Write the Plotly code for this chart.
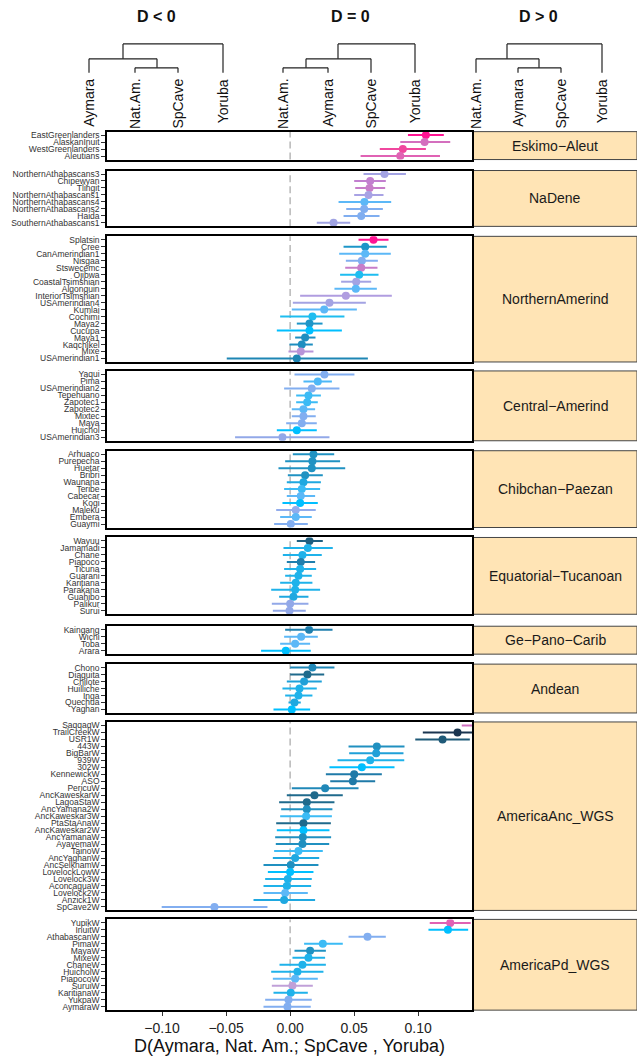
import plotly.graph_objects as go

FIG_W, FIG_H = 637, 1060
FONT = "Liberation Sans, Arial, Helvetica, sans-serif"

# ---------------- D statistics with 95% intervals ----------------
eskimo_names = ["EastGreenlanders", "AlaskanInuit", "WestGreenlanders", "Aleutians"]
eskimo_d = [0.106, 0.105, 0.088, 0.086]
eskimo_lo = [0.092, 0.086, 0.070, 0.055]
eskimo_hi = [0.120, 0.125, 0.106, 0.117]
eskimo_col = ["#FF1493", "#D46FBE", "#F0479E", "#E062B4"]

nadene_names = ["NorthernAthabascans3", "Chipewyan", "Tlingit", "NorthernAthabascans1",
                "NorthernAthabascans4", "NorthernAthabascans2", "Haida", "SouthernAthabascans1"]
nadene_d = [0.0737, 0.0625, 0.0620, 0.0612, 0.0580, 0.0578, 0.0555, 0.0339]
nadene_lo = [0.0573, 0.0500, 0.0508, 0.0500, 0.0378, 0.0438, 0.0417, 0.0208]
nadene_hi = [0.0904, 0.0747, 0.0742, 0.0729, 0.0789, 0.0724, 0.0698, 0.0469]
nadene_col = ["#A3A3E3", "#C27FCF", "#C77DC9", "#A8A2E4", "#5CB8F7", "#80AEF0", "#80AEF0", "#A0A3E3"]

namer_names = ["Splatsin", "Cree", "CanAmerindian1", "Nisgaa", "Stswecemc", "Ojibwa",
               "CoastalTsimshian", "Algonquin", "InteriorTsimshian", "USAmerindian4", "Kumlai",
               "Cochimi", "Maya2", "Cucupa", "Maya1", "Kaqchikel", "Mixe", "USAmerindian1"]
namer_d = [0.0651, 0.0586, 0.0586, 0.0560, 0.0555, 0.0539, 0.0516, 0.0513, 0.0435, 0.0307,
           0.0266, 0.0174, 0.0151, 0.0151, 0.0117, 0.0091, 0.0083, 0.0052]
namer_lo = [0.0534, 0.0417, 0.0383, 0.0435, 0.0430, 0.0390, 0.0398, 0.0346, 0.0078, 0.0021,
            0.0013, -0.0078, 0.0052, -0.0104, 0.0039, -0.0005, -0.0013, -0.0495]
namer_hi = [0.0768, 0.0755, 0.0786, 0.0685, 0.0682, 0.0690, 0.0633, 0.0677, 0.0794, 0.0591,
            0.0521, 0.0424, 0.0253, 0.0404, 0.0198, 0.0177, 0.0182, 0.0607]
namer_col = ["#FF1493", "#1E96C8", "#5CB8F7", "#82AEF0", "#C77DC9", "#1EBDF0", "#A3A3E3",
             "#5CB8F7", "#B09DE0", "#A3A3E3", "#5CB8F7", "#1EBDF0", "#1E96C8", "#00BFFF",
             "#1E8EC0", "#1E8EC0", "#B894D8", "#1E86B4"]

central_names = ["Yaqui", "Pima", "USAmerindian2", "Tepehuano", "Zapotec1", "Zapotec2",
                 "Mixtec", "Maya", "Huichol", "USAmerindian3"]
central_d = [0.0268, 0.0216, 0.0169, 0.0143, 0.0133, 0.0104, 0.0104, 0.0091, 0.0052, -0.0060]
central_lo = [0.0034, 0.0104, -0.0047, 0.0047, 0.0047, 0.0013, 0.0013, -0.0031, -0.0104, -0.0430]
central_hi = [0.0502, 0.0326, 0.0385, 0.0240, 0.0216, 0.0195, 0.0200, 0.0208, 0.0208, 0.0307]
central_col = ["#82AEF0", "#4DB8F7", "#82AEF0", "#3BBBF5", "#3BBBF5", "#5CB8F7", "#82AEF0",
               "#82AEF0", "#00BFFF", "#92A8E8"]

chib_names = ["Arhuaco", "Purepecha", "Huetar", "Bribri", "Waunana", "Teribe", "Cabecar",
              "Kogi", "Maleku", "Embera", "Guaymi"]
chib_d = [0.0182, 0.0174, 0.0169, 0.0117, 0.0104, 0.0091, 0.0083, 0.0078, 0.0044, 0.0044, 0.0005]
chib_lo = [0.0021, -0.0039, -0.0091, -0.0018, -0.0026, -0.0047, -0.0026, -0.0060, -0.0109,
           -0.0078, -0.0125]
chib_hi = [0.0344, 0.0390, 0.0430, 0.0255, 0.0240, 0.0234, 0.0195, 0.0216, 0.0200, 0.0169, 0.0138]
chib_col = ["#2092C2", "#2092C2", "#2092C2", "#2092C2", "#1FA8E0", "#3BBBF5", "#5CB8F7",
            "#00BFFF", "#92ACEC", "#5CB8F7", "#82AEF0"]

equat_names = ["Wayuu", "Jamamadi", "Chane", "Piapoco", "Ticuna", "Guarani", "Karitiana",
               "Parakana", "Guahibo", "Palikur", "Surui"]
equat_d = [0.0151, 0.0138, 0.0096, 0.0083, 0.0078, 0.0065, 0.0044, 0.0039, 0.0026, 0.0000, -0.0005]
equat_lo = [0.0052, -0.0052, -0.0057, -0.0026, -0.0047, -0.0039, -0.0078, -0.0148, -0.0086,
            -0.0143, -0.0135]
equat_hi = [0.0255, 0.0333, 0.0247, 0.0195, 0.0203, 0.0169, 0.0174, 0.0234, 0.0143, 0.0143, 0.0122]
equat_col = ["#1F5F80", "#1FB2EA", "#1FB2EA", "#1F7FAE", "#1FB2EA", "#1FB2EA", "#1FB2EA",
             "#1FB2EA", "#1FA8E0", "#92A8E8", "#92A8E8"]

gepano_names = ["Kaingang", "Wichi", "Toba", "Arara"]
gepano_d = [0.0148, 0.0086, 0.0039, -0.0034]
gepano_lo = [-0.0039, -0.0047, -0.0078, -0.0227]
gepano_hi = [0.0331, 0.0216, 0.0156, 0.0161]
gepano_col = ["#1F7FAE", "#5CB8F7", "#5CB8F7", "#00BFFF"]

andean_names = ["Chono", "Diaguita", "Chilote", "Huilliche", "Inga", "Quechua", "Yaghan"]
andean_d = [0.0174, 0.0135, 0.0109, 0.0073, 0.0065, 0.0034, 0.0013]
andean_lo = [0.0000, 0.0000, -0.0026, -0.0060, -0.0039, -0.0013, -0.0130]
andean_hi = [0.0346, 0.0266, 0.0247, 0.0208, 0.0174, 0.0083, 0.0156]
andean_col = ["#2088B8", "#1F6A8C", "#1FA0D8", "#1FB2EA", "#1FB2EA", "#1FA8E0", "#00BFFF"]

anc_names = ["SaqqaqW", "TrailCreekW", "USR1W", "443W", "BigBarW", "939W", "302W",
             "KennewickW", "ASO", "PericuW", "AncKaweskarW", "LagoaStaW", "AncYamana2W",
             "AncKaweskar3W", "PtaStaAnaW", "AncKaweskar2W", "AncYamanaW", "AyayemaW",
             "TainoW", "AncYaghanW", "AncSelknamW", "LovelockLowW", "Lovelock3W",
             "AconcaguaW", "Lovelock2W", "Anzick1W", "SpCave2W"]
anc_d = [0.1600, 0.1307, 0.1190, 0.0677, 0.0672, 0.0625, 0.0560, 0.0500, 0.0490, 0.0273,
         0.0190, 0.0130, 0.0130, 0.0125, 0.0104, 0.0104, 0.0099, 0.0096, 0.0065, 0.0039,
         0.0005, 0.0000, -0.0018, -0.0026, -0.0039, -0.0047, -0.0591]
anc_lo = [0.1340, 0.1036, 0.0977, 0.0456, 0.0461, 0.0370, 0.0307, 0.0279, 0.0313, 0.0013,
          -0.0026, -0.0086, -0.0070, -0.0078, -0.0109, -0.0104, -0.0117, -0.0112, -0.0125,
          -0.0135, -0.0208, -0.0174, -0.0195, -0.0208, -0.0208, -0.0286, -0.1003]
anc_hi = [0.1860, 0.1580, 0.1403, 0.0893, 0.0885, 0.0891, 0.0815, 0.0716, 0.0664, 0.0534,
          0.0411, 0.0346, 0.0330, 0.0326, 0.0318, 0.0307, 0.0320, 0.0305, 0.0255, 0.0227,
          0.0221, 0.0182, 0.0169, 0.0164, 0.0138, 0.0195, -0.0177]
anc_col = ["#D070C0", "#1A3550", "#1F5A78", "#2090C0", "#1FA0D8", "#1FB2EA", "#00BFFF",
           "#1F7AA8", "#1F7AA8", "#2088B8", "#1F6A8C", "#1F6A8C", "#2090C0", "#3BBBF5",
           "#1F6A8C", "#00BFFF", "#2090C0", "#2090C0", "#3BBBF5", "#1FA8E0", "#2090C0",
           "#00BFFF", "#1FB2EA", "#1FB2EA", "#5CB8F7", "#1FA8E0", "#82AEF0"]

pd_names = ["YupikW", "InuitW", "AthabascanW", "PimaW", "MayaW", "MixeW", "ChaneW",
            "HuicholW", "PiapocoW", "SuruiW", "KaritianaW", "YukpaW", "AymaraW"]
pd_d = [0.1250, 0.1232, 0.0604, 0.0255, 0.0156, 0.0143, 0.0096, 0.0057, 0.0039, 0.0018,
        0.0005, -0.0013, -0.0021]
pd_lo = [0.1090, 0.1080, 0.0456, 0.0109, 0.0034, 0.0018, -0.0083, -0.0148, -0.0135, -0.0143,
         -0.0130, -0.0195, -0.0208]
pd_hi = [0.1410, 0.1390, 0.0747, 0.0411, 0.0279, 0.0273, 0.0279, 0.0260, 0.0216, 0.0177,
         0.0138, 0.0169, 0.0161]
pd_col = ["#E062B4", "#00BFFF", "#82AEF0", "#3BBBF5", "#2092C2", "#1FB2EA", "#1FB2EA",
          "#1FB2EA", "#5CB8F7", "#C0A0D8", "#1FB2EA", "#82AEF0", "#82AEF0"]

groups = [
    ("Eskimo−Aleut", eskimo_names, eskimo_d, eskimo_lo, eskimo_hi, eskimo_col),
    ("NaDene", nadene_names, nadene_d, nadene_lo, nadene_hi, nadene_col),
    ("NorthernAmerind", namer_names, namer_d, namer_lo, namer_hi, namer_col),
    ("Central−Amerind", central_names, central_d, central_lo, central_hi, central_col),
    ("Chibchan−Paezan", chib_names, chib_d, chib_lo, chib_hi, chib_col),
    ("Equatorial−Tucanoan", equat_names, equat_d, equat_lo, equat_hi, equat_col),
    ("Ge−Pano−Carib", gepano_names, gepano_d, gepano_lo, gepano_hi, gepano_col),
    ("Andean", andean_names, andean_d, andean_lo, andean_hi, andean_col),
    ("AmericaAnc_WGS", anc_names, anc_d, anc_lo, anc_hi, anc_col),
    ("AmericaPd_WGS", pd_names, pd_d, pd_lo, pd_hi, pd_col),
]

x_ticks = [-0.10, -0.05, 0.00, 0.05, 0.10]
x_title = "D(Aymara, Nat. Am.; SpCave , Yoruba)"

# ---------------- layout geometry (pixels) ----------------
PANEL_TOPS = [130, 169, 235, 370, 450, 537, 626, 664, 722, 920]
ROW_PX = 7
PANEL_X0, PANEL_X1 = 107, 472
STRIP_X0 = 473
X_RANGE = [-0.143, 0.142]

# Arial/Liberation Sans advance widths (em) used to top-align rotated labels
CHAR_EM = {"A": .667, "y": .5, "m": .833, "a": .556, "r": .333, "N": .722, "t": .278,
           ".": .278, "S": .667, "p": .556, "C": .722, "v": .5, "e": .556, "Y": .667,
           "o": .556, "u": .556, "b": .556}


def text_px(s, size):
    return sum(CHAR_EM.get(ch, .556) for ch in s) * size


def px(x):
    return x / FIG_W


def py(y):
    return 1 - y / FIG_H


fig = go.Figure()
layout = dict(
    width=FIG_W, height=FIG_H,
    margin=dict(l=0, r=0, t=0, b=0),
    paper_bgcolor="white", plot_bgcolor="white",
    font=dict(family=FONT, color="#222"),
    showlegend=False,
)
shapes = []
annotations = []

n_groups = len(groups)
for k, (gname, names, d, lo, hi, cols) in enumerate(groups, start=1):
    xa = "x" if k == 1 else f"x{k}"
    ya = "y" if k == 1 else f"y{k}"
    top = PANEL_TOPS[k - 1]
    bottom = top + ROW_PX * len(names)
    last = k == n_groups

    layout["xaxis" if k == 1 else f"xaxis{k}"] = dict(
        domain=[px(PANEL_X0), px(PANEL_X1)], anchor=ya,
        range=X_RANGE, matches=None if k == 1 else "x",
        showgrid=False, zeroline=False,
        showline=True, linecolor="black", linewidth=1.5, mirror=True,
        tickmode="array", tickvals=x_ticks, tickformat=".2f",
        showticklabels=last, ticks="outside" if last else "",
        ticklen=4, tickwidth=1, tickcolor="#333",
        tickfont=dict(size=14, color="#222", family=FONT),
        title=dict(text=x_title if last else "", font=dict(size=18, color="#111"), standoff=2),
    )
    layout["yaxis" if k == 1 else f"yaxis{k}"] = dict(
        domain=[py(bottom), py(top)], anchor=xa,
        type="category", categoryorder="array", categoryarray=list(reversed(names)),
        range=[-0.5, len(names) - 0.5],
        tickmode="array", tickvals=names, ticktext=names,
        showgrid=False, zeroline=False,
        showline=True, linecolor="black", linewidth=1.5, mirror=True,
        ticks="outside", ticklen=4, tickwidth=1, tickcolor="#333",
        tickfont=dict(size=8.5, color="#333", family=FONT),
    )

    # reference line at D = 0
    shapes.append(dict(type="line", xref=xa, yref=f"{ya} domain", x0=0, x1=0, y0=0, y1=1,
                       line=dict(color="#BDBDBD", width=1.6, dash="7px,4px"), layer="below"))

    for name, v, l, h, c in zip(names, d, lo, hi, cols):
        fig.add_trace(go.Scatter(
            x=[v], y=[name], mode="markers", xaxis=xa, yaxis=ya,
            marker=dict(color=c, size=8, line=dict(width=0)),
            error_x=dict(type="data", symmetric=False, array=[h - v], arrayminus=[v - l],
                         color=c, thickness=2, width=0),
            hovertemplate=f"{name}: %{{x:.4f}}<extra></extra>",
        ))

    # facet strip on the right
    shapes.append(dict(type="rect", xref="paper", yref="paper",
                       x0=px(STRIP_X0), x1=1.0, y0=py(bottom), y1=py(top),
                       fillcolor="#FFE4B5", line=dict(color="#444", width=1), layer="below"))
    annotations.append(dict(xref="paper", yref="paper", x=px((STRIP_X0 + FIG_W) / 2),
                            y=py((top + bottom) / 2), text=gname, showarrow=False,
                            xanchor="center", yanchor="middle",
                            font=dict(size=14, color="#1A1A1A", family=FONT)))

# ---------------- topology diagrams above the panels ----------------
BAR1, BAR2, BAR3, LEAF_END, LABEL_TOP = 42, 57, 66, 71, 77
LEAF_FONT = 14
trees = [
    ("D &lt; 0", 156,
     [("Aymara", 89), ("Nat.Am.", 135), ("SpCave", 178), ("Yoruba", 223)],
     [(123, BAR1, 223, BAR1), (123, BAR1, 123, BAR2), (89, BAR2, 157, BAR2),
      (157, BAR2, 157, BAR3), (135, BAR3, 178, BAR3),
      (89, BAR2, 89, LEAF_END), (135, BAR3, 135, LEAF_END),
      (178, BAR3, 178, LEAF_END), (223, BAR1, 223, LEAF_END)]),
    ("D = 0", 350,
     [("Nat.Am.", 283), ("Aymara", 328), ("SpCave", 371), ("Yoruba", 415)],
     [(283, BAR3, 328, BAR3), (306, BAR3, 306, BAR2), (306, BAR2, 371, BAR2),
      (338, BAR2, 338, BAR1), (338, BAR1, 415, BAR1),
      (283, BAR3, 283, LEAF_END), (328, BAR3, 328, LEAF_END),
      (371, BAR2, 371, LEAF_END), (415, BAR1, 415, LEAF_END)]),
    ("D &gt; 0", 538,
     [("Nat.Am.", 476), ("Aymara", 518), ("SpCave", 561), ("Yoruba", 602)],
     [(507, BAR1, 602, BAR1), (507, BAR1, 507, BAR2), (476, BAR2, 539, BAR2),
      (539, BAR2, 539, BAR3), (518, BAR3, 561, BAR3),
      (476, BAR2, 476, LEAF_END), (518, BAR3, 518, LEAF_END),
      (561, BAR3, 561, LEAF_END), (602, BAR1, 602, LEAF_END)]),
]
for title, tx, leaves, segs in trees:
    annotations.append(dict(xref="paper", yref="paper", x=px(tx), y=py(15), text=title,
                            showarrow=False, xanchor="center", yanchor="middle",
                            font=dict(size=16, color="#111", family=FONT, weight="bold")))
    for x0, y0, x1, y1 in segs:
        shapes.append(dict(type="line", xref="paper", yref="paper",
                           x0=px(x0), y0=py(y0), x1=px(x1), y1=py(y1),
                           line=dict(color="#222", width=1.2)))
    for lab, lx in leaves:
        centre = LABEL_TOP + text_px(lab, LEAF_FONT) / 2
        annotations.append(dict(xref="paper", yref="paper", x=px(lx), y=py(centre),
                                text=lab, textangle=-90, showarrow=False,
                                xanchor="center", yanchor="middle",
                                font=dict(size=LEAF_FONT, color="#111", family=FONT)))

layout["shapes"] = shapes
layout["annotations"] = annotations
fig.update_layout(**layout)
fig.write_html("out.html")
